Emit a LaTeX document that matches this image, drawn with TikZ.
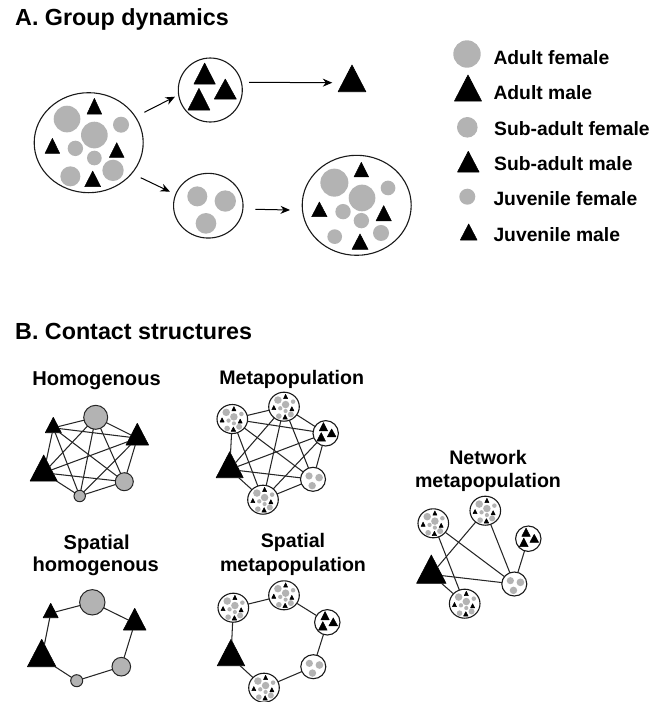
\documentclass[tikz,border=0pt]{standalone}
\usepackage{fontspec}
\setmainfont{Liberation Sans}
\usetikzlibrary{arrows.meta,shapes.geometric}
\definecolor{gf}{HTML}{B3B3B3}
\tikzset{
  x=1pt,y=-1pt,
  ring/.style={ellipse,draw=black!90,line width=1.1pt,fill=white,inner sep=0,outer sep=0,minimum width=#1},
  gc/.style={circle,fill=gf,draw=black!85,line width=1pt,inner sep=0,outer sep=0,minimum size=#1},
  lc/.style={circle,fill=gf,inner sep=0,outer sep=0,minimum size=#1},
  trn/.style={isosceles triangle,isosceles triangle apex angle=55,shape border rotate=90,fill=black,draw=black,line width=.6pt,line join=round,inner sep=0,outer sep=0,anchor=lower side,minimum height=#1},
  edge/.style={draw=black!85,line width=1.05pt},
  arr/.style={draw=black,line width=1pt,-{Stealth[length=9.5pt,width=8pt]}},
  head/.style={font=\fontsize{23.3}{26}\selectfont\bfseries,anchor=base west,inner sep=0},
  ttl/.style={font=\fontsize{19.6}{22}\selectfont\bfseries,anchor=base,inner sep=0},
  ttlh/.style={font=\fontsize{20.1}{22}\selectfont\bfseries,anchor=base,inner sep=0},
  leg/.style={font=\fontsize{19.3}{22}\selectfont\bfseries,anchor=base west,inner sep=0},
}
\newcommand\GC[3]{\fill[gf] (#1,#2) circle (#3);}
\newcommand\TR[4]{\fill[black,line join=round,line width=.5pt,draw=black] (#1,#2) -- ++(#3,#4) -- ++(-2*#3,0) -- cycle;}
\newcommand\InnerA{\GC{-65}{-71}{40}\GC{17}{-23}{40}\GC{97}{-54}{24}\GC{-40}{17}{23}\GC{17}{46}{22}\GC{-55}{101}{30}\GC{73}{83}{32}%
  \TR{17}{-133}{22}{47}\TR{-109}{-13}{22}{45}\TR{84}{0}{22}{44}\TR{12}{85}{24}{47}}
\newcommand\InnerD{\GC{-67}{-68}{42}\GC{16}{-22}{40}\GC{94}{-52}{22}\GC{-41}{19}{23}\GC{14}{46}{23}\GC{-66}{94}{22}\GC{73}{83}{24}%
  \TR{14}{-129}{22}{44}\TR{-112}{-10}{23}{44}\TR{81}{1}{23}{46}\TR{10}{86}{24}{46}}
\newcommand\InnerM{\TR{-17}{-81}{32}{63}\TR{45}{-33}{33}{60}\TR{-34}{-5}{33}{65}}
\newcommand\InnerF{\GC{-33}{-28}{30}\GC{51}{-14}{32}\GC{-7}{53}{31}}
% full mixed group: name, x, y
\newcommand\PopA[3]{\node[ring=30.6pt,minimum height=29pt] (#1) at (#2,#3) {};
  \begin{scope}[shift={(#2,#3)},scale=.0937]\InnerA\end{scope}}
\newcommand\PopM[3]{\node[ring=25.4pt,minimum height=25.4pt] (#1) at (#2,#3) {};
  \begin{scope}[shift={(#2,#3)},scale=.132]\InnerM\end{scope}}
\newcommand\PopF[3]{\node[ring=25pt,minimum height=24pt] (#1) at (#2,#3) {};
  \begin{scope}[shift={(#2,#3)},scale=.12]\InnerF\end{scope}}
\newcommand\Complete[6]{\foreach \a/\b in {#1/#2,#1/#3,#1/#4,#1/#5,#1/#6,#2/#3,#2/#4,#2/#5,#2/#6,#3/#4,#3/#5,#3/#6,#4/#5,#4/#6,#5/#6}{\draw[edge] (\a) -- (\b);}}
\begin{document}
\begin{tikzpicture}
\useasboundingbox (0,0) rectangle (651,702);
\node[head] (tA) at (15,25) {A. Group dynamics};
\node[head] (tB) at (15,339) {B. Contact structures};

% Group dynamics
\node[ring=109pt,minimum height=100pt] (g1) at (88.7,142.7) {};
\begin{scope}[shift={(88.7,142.7)},scale=.3333]\InnerA\end{scope}
\node[ring=64pt,minimum height=64pt] (g2) at (210.3,90) {};
\begin{scope}[shift={(210.3,90)},scale=.3333]\InnerM\end{scope}
\node[trn=26.7pt] (g3) at (352,91.7) {};
\node[ring=69.5pt,minimum height=64.7pt] (g4) at (208.3,205.7) {};
\begin{scope}[shift={(208.3,205.7)},scale=.3333]\InnerF\end{scope}
\node[ring=109pt,minimum height=100pt] (g5) at (356.7,205.3) {};
\begin{scope}[shift={(356.7,205.3)},scale=.3333]\InnerD\end{scope}
\coordinate (a1s) at (144.3,112.3); \coordinate (a1e) at (175,96.7);
\coordinate (a2s) at (249,82.3);    \coordinate (a2e) at (332.3,82.7);
\coordinate (a3s) at (140.7,177.7); \coordinate (a3e) at (170,191.7);
\coordinate (a4s) at (255.3,209.3); \coordinate (a4e) at (290,210);
\draw[arr] (a1s) -- (a1e);
\draw[arr] (a2s) -- (a2e);
\draw[arr] (a3s) -- (a3e);
\draw[arr] (a4s) -- (a4e);

% Legend
\node[lc=27.4pt] (l1) at (467,54) {};
\node[trn=26pt] (l2) at (468,101) {};
\node[lc=20.6pt] (l3) at (467.3,127.3) {};
\node[trn=20.7pt] (l4) at (468.3,172) {};
\node[lc=16pt] (l5) at (467.3,196.7) {};
\node[trn=16pt] (l6) at (468.7,240) {};
\node[leg] (lt1) at (493.3,64.3) {Adult female};
\node[leg] (lt2) at (493.3,99) {Adult male};
\node[leg] (lt3) at (494,135) {Sub-adult female};
\node[leg] (lt4) at (494,170) {Sub-adult male};
\node[leg] (lt5) at (493.3,205.7) {Juvenile female};
\node[leg] (lt6) at (493.3,241.7) {Juvenile male};

% Homogenous
\node[ttlh] (t1) at (96.5,385) {Homogenous};
\node[gc=24pt] (h1) at (95.7,417.3) {};
\node[trn=21.7pt] (h2) at (137.3,445) {};
\node[gc=18pt] (h3) at (124.3,481.7) {};
\node[gc=11.4pt] (h4) at (79.7,496) {};
\node[trn=26pt] (h5) at (43.7,481) {};
\node[trn=15.4pt] (h6) at (53.3,432.7) {};
\Complete{h1}{h2}{h3}{h4}{h5}{h6}

% Spatial homogenous
\node[ttlh] (t2a) at (96.7,549) {Spatial};
\node[ttlh] (t2b) at (95.7,571.7) {homogenous};
\node[gc=25.4pt] (s1) at (92.3,602.3) {};
\node[trn=21.7pt] (s2) at (134.7,630) {};
\node[gc=18.6pt] (s3) at (121.3,666.7) {};
\node[gc=12pt] (s4) at (76.7,680.7) {};
\node[trn=27.4pt] (s5) at (41.7,666.7) {};
\node[trn=14.4pt] (s6) at (50.7,617.7) {};
\foreach \a/\b in {s1/s2,s2/s3,s3/s4,s4/s5,s5/s6,s6/s1}{\draw[edge] (\a) -- (\b);}

% Metapopulation
\node[ttl] (t3) at (291.7,384) {Metapopulation};
\PopA{m1}{284}{406.7}
\PopM{m2}{325.7}{433.3}
\PopF{m3}{313}{479.3}
\PopA{m4}{263}{499.7}
\node[trn=26pt] (m5) at (229.7,477.7) {};
\PopA{m6}{232.3}{419}
\Complete{m1}{m2}{m3}{m4}{m5}{m6}

% Spatial metapopulation
\node[ttl] (t4a) at (293,547) {Spatial};
\node[ttl] (t4b) at (293,571.7) {metapopulation};
\PopA{p1}{284}{595.3}
\PopM{p2}{327.3}{622.3}
\PopF{p3}{313.3}{666.7}
\PopA{p4}{264}{687.7}
\node[trn=26.4pt] (p5) at (231,665.7) {};
\PopA{p6}{233.3}{607.7}
\foreach \a/\b in {p1/p2,p2/p3,p3/p4,p4/p5,p5/p6,p6/p1}{\draw[edge] (\a) -- (\b);}

% Network metapopulation
\node[ttl] (t5a) at (488,464) {Network};
\node[ttl] (t5b) at (488,487) {metapopulation};
\PopA{n1}{485.3}{510.7}
\PopM{n2}{528.3}{538.7}
\PopF{n3}{514.3}{584}
\PopA{n4}{464.7}{603.7}
\node[trn=28.3pt] (n5) at (431.3,583.3) {};
\PopA{n6}{433.3}{523.3}
\foreach \a/\b in {n6/n3,n6/n4,n1/n5,n1/n3,n2/n3,n5/n3,n5/n4}{\draw[edge] (\a) -- (\b);}
\end{tikzpicture}
\end{document}
